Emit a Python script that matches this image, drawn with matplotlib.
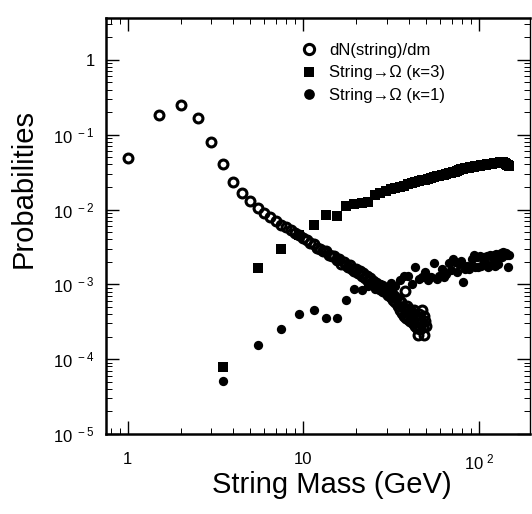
import math
import matplotlib.pyplot as plt
from matplotlib.ticker import LogLocator, FuncFormatter, NullFormatter

plt.rcParams['font.family'] = ['Liberation Sans', 'DejaVu Sans']
plt.rcParams['mathtext.fontset'] = 'custom'
plt.rcParams['mathtext.rm'] = 'Liberation Sans'
plt.rcParams['mathtext.default'] = 'regular'

# dN(string)/dm  (open circles)
mass_dn = [1.0, 1.5, 2.0, 2.5, 3.0, 3.5, 4.0, 4.5, 5.0, 5.5, 6.0, 6.5, 7.0, 7.5, 8.0, 8.5,
           9.0, 9.5, 10.0, 10.5, 11.0, 11.5, 12.0, 12.5, 13.0, 13.5, 14.0, 14.5, 15.0, 15.5,
           16.0, 16.5, 17.0, 17.5, 18.0, 18.5, 19.0, 19.5, 20.0, 20.5, 21.0, 21.5, 22.0, 22.5,
           23.0, 23.5, 24.0, 24.5, 25.0, 25.5, 26.0, 26.5, 27.0, 27.5, 28.0, 28.5, 29.0, 29.5,
           30.0, 30.5, 31.0, 31.5, 32.0, 32.5, 33.0, 33.5, 34.0, 34.5, 35.0, 35.5, 36.0, 36.5,
           37.0, 37.5, 38.0, 38.5, 39.0, 39.5, 40.0, 40.5, 41.0, 41.5, 42.0, 42.5, 43.0, 43.5,
           44.0, 44.5, 45.0, 45.5, 46.0, 46.5, 47.0, 47.5, 48.0, 48.5, 49.0, 49.5, 50.0]
dn_dm = [0.049, 0.185, 0.25, 0.167, 0.080, 0.040, 0.023, 0.0167, 0.0129, 0.0105, 0.0090,
         0.0079, 0.0071, 0.0063, 0.0058, 0.0053, 0.0049, 0.0046, 0.0042, 0.0039, 0.0036,
         0.0035, 0.0031, 0.0030, 0.0028, 0.0028, 0.0025, 0.0024, 0.0024, 0.0021, 0.0022,
         0.0019, 0.0020, 0.0018, 0.0017, 0.0018, 0.0016, 0.0015, 0.0016, 0.0014, 0.0015,
         0.0013, 0.0014, 0.0012, 0.0013, 0.0011, 0.0012, 0.00105, 0.0011, 0.00098, 0.00105,
         0.00092, 0.00098, 0.00088, 0.00094, 0.00082, 0.00088, 0.00078, 0.00085, 0.00072,
         0.00080, 0.00068, 0.00075, 0.00062, 0.00070, 0.00058, 0.00066, 0.00052, 0.00062,
         0.00046, 0.00058, 0.00042, 0.00050, 0.00038, 0.00081, 0.00036, 0.00052, 0.00034,
         0.00047, 0.00032, 0.00044, 0.00036, 0.00040, 0.00030, 0.00045, 0.00028, 0.00038,
         0.00026, 0.00021, 0.00040, 0.00025, 0.00035, 0.00030, 0.00045, 0.00027, 0.00038,
         0.00021, 0.00032, 0.00028]

# String -> Omega, kappa=3 (squares) and kappa=1 (filled circles)
mass_omega = [3.5, 5.5, 7.5, 9.5, 11.5, 13.5, 15.5, 17.5, 19.5, 21.5, 23.5, 25.5, 27.5, 29.5,
              31.5, 33.5, 35.5, 37.5, 39.5, 41.5, 43.5, 45.5, 47.5, 49.5, 51.5, 53.5, 55.5,
              57.5, 59.5, 61.5, 63.5, 65.5, 67.5, 69.5, 71.5, 73.5, 75.5, 77.5, 79.5, 81.5,
              83.5, 85.5, 87.5, 89.5, 91.5, 93.5, 95.5, 97.5, 99.5, 101.5, 103.5, 105.5,
              107.5, 109.5, 111.5, 113.5, 115.5, 117.5, 119.5, 121.5, 123.5, 125.5, 127.5,
              129.5, 131.5, 133.5, 135.5, 137.5, 139.5, 141.5, 143.5, 145.5, 147.5, 149.5]
omega_k3 = [7.9e-5, 1.63e-3, 3.0e-3, 4.5e-3, 6.3e-3, 8.4e-3, 8.1e-3, 0.0111, 0.0117, 0.0121,
            0.0126, 0.0158, 0.0168, 0.0177, 0.0186, 0.0195, 0.0203, 0.0205, 0.0222, 0.0226,
            0.0236, 0.0240, 0.0247, 0.0252, 0.0255, 0.0266, 0.0270, 0.0278, 0.0280, 0.0290,
            0.0293, 0.0300, 0.0306, 0.0308, 0.0318, 0.0322, 0.0330, 0.0334, 0.0345, 0.0352,
            0.0356, 0.0360, 0.0362, 0.0365, 0.0370, 0.0372, 0.0376, 0.0378, 0.0382, 0.0385,
            0.0388, 0.0392, 0.0395, 0.0397, 0.0400, 0.0403, 0.0408, 0.0410, 0.0412, 0.0414,
            0.0416, 0.0418, 0.0420, 0.0424, 0.0426, 0.0428, 0.0430, 0.0428, 0.0425, 0.0418,
            0.0405, 0.0395, 0.0388, 0.0384]
omega_k1 = [5.1e-5, 1.54e-4, 2.56e-4, 4.07e-4, 4.6e-4, 3.6e-4, 3.6e-4, 6.1e-4, 8.8e-4, 8.3e-4,
            9.5e-4, 8.8e-4, 1.0e-3, 9.2e-4, 1.05e-3, 9.6e-4, 1.13e-3, 1.29e-3, 1.29e-3, 1.02e-3,
            1.70e-3, 1.19e-3, 1.25e-3, 1.46e-3, 1.13e-3, 1.25e-3, 1.95e-3, 1.19e-3, 1.30e-3,
            1.62e-3, 1.25e-3, 1.39e-3, 1.95e-3, 1.55e-3, 2.16e-3, 2.0e-3, 1.46e-3, 1.85e-3,
            2.05e-3, 1.07e-3, 1.60e-3, 1.75e-3, 1.62e-3, 1.72e-3, 2.2e-3, 2.5e-3, 1.68e-3,
            2.3e-3, 1.70e-3, 2.39e-3, 1.75e-3, 2.2e-3, 2.35e-3, 1.85e-3, 2.4e-3, 1.70e-3,
            2.45e-3, 1.80e-3, 2.3e-3, 2.5e-3, 1.75e-3, 2.55e-3, 2.2e-3, 1.9e-3, 2.45e-3,
            2.6e-3, 2.3e-3, 2.7e-3, 2.5e-3, 2.62e-3, 2.64e-3, 2.45e-3, 1.7e-3, 2.5e-3]

fig = plt.figure(figsize=(5.32, 5.14), dpi=100)
ax = fig.add_axes([106 / 532, 80 / 514, 424 / 532, 416 / 514])

ax.plot(mass_omega, omega_k3, 's', color='black', markersize=6.5, markeredgewidth=0,
        label='String\u2192\u03a9 (\u03ba=3)')
ax.plot(mass_omega, omega_k1, 'o', color='black', markersize=6.7, markeredgewidth=0,
        label='String\u2192\u03a9 (\u03ba=1)')
ax.plot(mass_dn, dn_dm, 'o', markerfacecolor='none', markeredgecolor='black',
        markersize=6.4, markeredgewidth=2.2, label='dN(string)/dm')

ax.set_xscale('log')
ax.set_yscale('log')
ax.set_xlim(0.752, 196)
ax.set_ylim(1e-5, 3.63)


def log_label(v, pos):
    e = int(round(math.log10(v)))
    if e == 0:
        return '1'
    if e == 1:
        return '10'
    return r'$10^{\ %d}$' % e


ax.xaxis.set_major_locator(LogLocator(base=10))
ax.yaxis.set_major_locator(LogLocator(base=10, numticks=10))
ax.yaxis.set_minor_locator(LogLocator(base=10, subs=range(2, 10), numticks=20))
ax.xaxis.set_major_formatter(FuncFormatter(log_label))
ax.yaxis.set_major_formatter(FuncFormatter(log_label))
ax.xaxis.set_minor_formatter(NullFormatter())
ax.yaxis.set_minor_formatter(NullFormatter())

ax.tick_params(which='major', direction='in', top=True, right=True, length=9.5, width=1,
               labelsize=12)
ax.tick_params(which='minor', direction='in', top=True, right=True, length=4, width=0.7)
ax.tick_params(axis='x', which='major', pad=13)
ax.tick_params(axis='y', which='major', pad=8)

for side in ['left', 'bottom', 'top']:
    ax.spines[side].set_linewidth(1.8)
ax.spines['right'].set_linewidth(1.0)

handles, labels = ax.get_legend_handles_labels()
order = [2, 0, 1]
ax.legend([handles[i] for i in order], [labels[i] for i in order], loc='upper left',
          bbox_to_anchor=(0.44, 0.96), frameon=False, fontsize=12, markerscale=1.15,
          handletextpad=0.7, labelspacing=0.45, borderpad=0, handlelength=1.0)

fig.text(24 / 532, 1 - 189 / 514, 'Probabilities', rotation=90, ha='center', va='center',
         fontsize=21)
fig.text(332 / 532, 1 - 485 / 514, 'String Mass (GeV)', ha='center', va='center',
         fontsize=21)

plt.savefig('out.png', dpi=100)
